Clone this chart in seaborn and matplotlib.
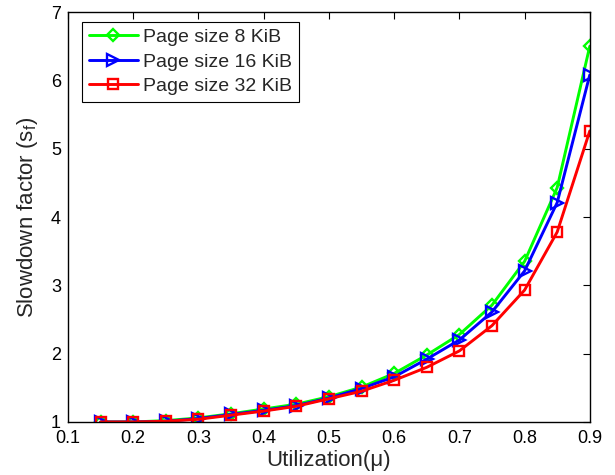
import matplotlib
matplotlib.use("Agg")
import matplotlib.pyplot as plt
import seaborn as sns
import pandas as pd

utilization = [0.15, 0.2, 0.25, 0.3, 0.35, 0.4, 0.45, 0.5, 0.55, 0.6, 0.65, 0.7, 0.75, 0.8, 0.85, 0.9]
page_8kib = [1.0, 1.0, 1.02, 1.06, 1.12, 1.19, 1.26, 1.37, 1.51, 1.71, 1.98, 2.28, 2.71, 3.35, 4.43, 6.5]
page_16kib = [1.0, 1.0, 1.01, 1.05, 1.11, 1.17, 1.24, 1.35, 1.49, 1.66, 1.92, 2.2, 2.61, 3.21, 4.21, 6.08]
page_32kib = [1.0, 1.0, 1.01, 1.04, 1.1, 1.16, 1.23, 1.34, 1.45, 1.61, 1.8, 2.04, 2.41, 2.93, 3.78, 5.26]
series_names = ["Page size 8 KiB", "Page size 16 KiB", "Page size 32 KiB"]
x_ticks = [0.1, 0.2, 0.3, 0.4, 0.5, 0.6, 0.7, 0.8, 0.9]
y_ticks = [1, 2, 3, 4, 5, 6, 7]

colors = ["#00ff00", "#0000ff", "#ff0000"]
markers = ["D", ">", "s"]
marker_sizes = [6.5, 9, 7]

sns.set_theme(style="white")
plt.rcParams["font.family"] = ["Liberation Sans", "DejaVu Sans"]
plt.rcParams["mathtext.fontset"] = "custom"
plt.rcParams["mathtext.rm"] = "Liberation Sans"
plt.rcParams["mathtext.it"] = "Liberation Sans"

fig = plt.figure(figsize=(6.15, 4.75), dpi=100)
ax = fig.add_axes([0.1106, 0.1116, 0.8484, 0.8631])

values = [page_8kib, page_16kib, page_32kib]
df = pd.concat([
    pd.DataFrame({"u": utilization, "s": v, "series": n})
    for n, v in zip(series_names, values)
], ignore_index=True)

for name, c, m, ms in zip(series_names, colors, markers, marker_sizes):
    sub = df[df["series"] == name]
    sns.lineplot(data=sub, x="u", y="s", ax=ax, color=c, marker=m,
                 linewidth=2.1, markersize=ms, label=name, legend=False,
                 estimator=None)

for line, c in zip(ax.lines, colors):
    line.set_markerfacecolor("none")
    line.set_markeredgecolor(c)
    line.set_markeredgewidth(1.7)

ax.set_xlim(0.1, 0.9)
ax.set_ylim(1, 7)
ax.set_xticks(x_ticks)
ax.set_xticklabels([f"{t:.1f}" for t in x_ticks])
ax.set_yticks(y_ticks)
ax.tick_params(direction="in", top=True, right=True, length=5, width=0.8,
               labelsize=13, colors="black")
ax.tick_params(axis="x", pad=6)
ax.tick_params(axis="y", pad=5)
for sp in ax.spines.values():
    sp.set_color("black")
    sp.set_linewidth(1.0)
ax.set_xlabel("Utilization(μ)", fontsize=16, labelpad=2)
ax.set_ylabel("Slowdown factor (s$_f$)", fontsize=16, labelpad=8)

leg = ax.legend(handles=ax.lines, labels=series_names, loc="upper left",
                bbox_to_anchor=(0.027, 0.976), borderaxespad=0, fontsize=14,
                frameon=True, fancybox=False, edgecolor="black", framealpha=1,
                handlelength=2.5, numpoints=1, borderpad=0.35, labelspacing=0.35,
                handletextpad=0.3)
leg.get_frame().set_linewidth(0.8)

fig.savefig("out.png", dpi=100)
